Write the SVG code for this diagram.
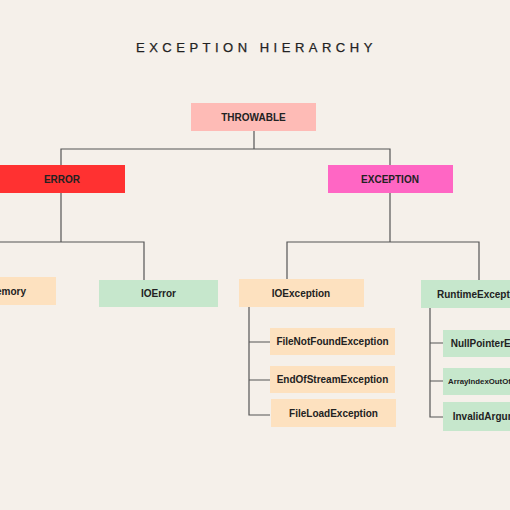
<svg xmlns="http://www.w3.org/2000/svg" width="510" height="510" viewBox="0 0 510 510">
<style>
.bg{fill:#F5F0EA}
.t{font-family:"Liberation Sans",Arial,sans-serif;font-weight:bold;font-size:10px;fill:#222;text-anchor:middle;dominant-baseline:central}
.s{text-anchor:start}
.e{text-anchor:end}
.pink{fill:#FEBBB6}.red{fill:#FF3131}.mag{fill:#FF66C4}.peach{fill:#FDE1BF}.green{fill:#C6E7CC}
.c{fill:none;stroke:#555;stroke-width:1.2}
.title{font-family:"Liberation Sans",Arial,sans-serif;font-size:13px;letter-spacing:4.5px;fill:#222;stroke:#222;stroke-width:0.25}
</style>
<rect class="bg" x="0" y="0" width="510" height="510"/>
<text class="title" x="136" y="51.5">EXCEPTION HIERARCHY</text>
<g id="connectors">
<path class="c" d="M254 131V149M61 165V149H390V165"/>
<path class="c" d="M61 193V242M-20 277V242H144V280"/>
<path class="c" d="M390 193V242M287 279V242H479V280"/>
<path class="c" d="M249 307V415H270M249 342H270M249 380H270"/>
<path class="c" d="M430 308V417H443M430 343H443M430 381H443"/>
</g>
<g id="throwable"><rect class="pink" x="191" y="103" width="125" height="28"/><text class="t" x="253.5" y="117">THROWABLE</text></g>
<g id="error"><rect class="red" x="-1" y="165" width="126" height="28"/><text class="t" x="62" y="179">ERROR</text></g>
<g id="exception"><rect class="mag" x="328" y="165" width="125" height="28"/><text class="t" x="390" y="179">EXCEPTION</text></g>
<g id="outofmemory"><rect class="peach" x="-69" y="277" width="125" height="28"/><text class="t e" x="26" y="291">OutOfMemory</text></g>
<g id="ioerror"><rect class="green" x="99" y="280" width="119" height="27"/><text class="t" x="158.5" y="293.5">IOError</text></g>
<g id="ioexception"><rect class="peach" x="239" y="279" width="125" height="28"/><text class="t" x="301" y="293">IOException</text></g>
<g id="runtimeexception"><rect class="green" x="421" y="280" width="125" height="28"/><text class="t s" x="437" y="294">RuntimeException</text></g>
<g id="filenotfound"><rect class="peach" x="270" y="328" width="125" height="27"/><text class="t" x="332.5" y="341.5">FileNotFoundException</text></g>
<g id="endofstream"><rect class="peach" x="270" y="366" width="125" height="27"/><text class="t" x="332.5" y="379.5">EndOfStreamException</text></g>
<g id="fileload"><rect class="peach" x="271" y="399" width="125" height="28"/><text class="t" x="333.5" y="413">FileLoadException</text></g>
<g id="nullpointer"><rect class="green" x="443" y="330" width="125" height="27"/><text class="t s" x="450.7" y="343.5">NullPointerException</text></g>
<g id="arrayindex"><rect class="green" x="443" y="368" width="125" height="27"/><text class="t s" x="448" y="381.5" style="font-size:7.8px">ArrayIndexOutOfBoundsException</text></g>
<g id="invalidargument"><rect class="green" x="443" y="402" width="125" height="29"/><text class="t s" x="452.7" y="416.5">InvalidArgumentException</text></g>
</svg>
